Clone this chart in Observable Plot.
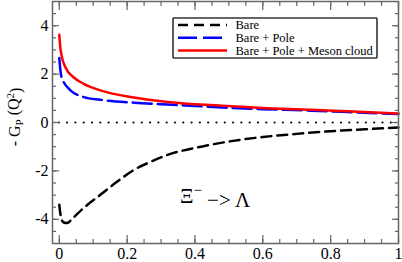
<!DOCTYPE html>
<html><head><meta charset="utf-8">
<script src="https://cdn.jsdelivr.net/npm/d3@7"></script>
<script src="https://cdn.jsdelivr.net/npm/@observablehq/plot@0.6"></script>
<style>
body{margin:0;background:#fff;}
#wrap{position:relative;width:402px;height:262px;}
#wrap svg text{font-family:"Liberation Serif","Times New Roman",serif;}
</style></head><body><div id="wrap"></div>
<script>
// Series
const bareQ2 = [0, 0.003, 0.008, 0.013, 0.023, 0.04, 0.072, 0.121, 0.171, 0.22, 0.27, 0.319, 0.418, 0.507, 0.6, 0.7, 0.8, 0.9, 1.0];
const bareG  = [-3.40, -3.75, -4.05, -4.13, -4.15, -3.95, -3.53, -2.99, -2.44, -1.96, -1.62, -1.34, -1.00, -0.77, -0.60, -0.47, -0.36, -0.28, -0.21];
const poleQ2 = [0, 0.003, 0.006, 0.013, 0.033, 0.072, 0.121, 0.22, 0.319, 0.418, 0.507, 0.6, 0.744, 0.85, 1.0];
const poleG  = [2.67, 2.20, 1.90, 1.67, 1.33, 1.05, 0.94, 0.82, 0.74, 0.67, 0.60, 0.55, 0.49, 0.43, 0.35];
const mesonQ2 = [0, 0.003, 0.008, 0.018, 0.042, 0.072, 0.121, 0.22, 0.319, 0.418, 0.507, 0.6, 0.744, 0.85, 1.0];
const mesonG  = [3.63, 3.10, 2.69, 2.28, 1.87, 1.60, 1.33, 1.03, 0.85, 0.74, 0.67, 0.60, 0.53, 0.46, 0.37];
const seriesNames = ["Bare", "Bare + Pole", "Bare + Pole + Meson cloud"];
const zeroLine = [{x1: 0, x2: 1, y: 0}];
const xMajor = [0, 0.2, 0.4, 0.6, 0.8, 1];
const xMinor = [0, 0.05, 0.1, 0.15, 0.2, 0.25, 0.3, 0.35, 0.4, 0.45, 0.5, 0.55, 0.6, 0.65, 0.7, 0.75, 0.8, 0.85, 0.9, 0.95, 1];
const yMajor = [-4, -2, 0, 2, 4];
const yMinor = [-4.5, -4, -3.5, -3, -2.5, -2, -1.5, -1, -0.5, 0, 0.5, 1, 1.5, 2, 2.5, 3, 3.5, 4, 4.5];
const annotation = [{x: 0.357, y: -3.06}];

const bare = bareQ2.map((x, i) => ({x, y: bareG[i]}));
const pole = poleQ2.map((x, i) => ({x, y: poleG[i]}));
const meson = mesonQ2.map((x, i) => ({x, y: mesonG[i]}));

const axisCol = "#666";
const serif = "Liberation Serif, Times New Roman, serif";
const blank = () => "";
const tickAxes = [];
for (const anchor of ["bottom", "top"]) {
  tickAxes.push(Plot.axisX(xMajor, {anchor, tickSize: -8, tickFormat: blank, stroke: axisCol, strokeWidth: 1.2, label: null}));
  tickAxes.push(Plot.axisX(xMinor, {anchor, tickSize: -4, tickFormat: blank, stroke: axisCol, strokeWidth: 1.2, label: null}));
}
for (const anchor of ["left", "right"]) {
  tickAxes.push(Plot.axisY(yMajor, {anchor, tickSize: -7, tickFormat: blank, stroke: axisCol, strokeWidth: 1.2, label: null}));
  tickAxes.push(Plot.axisY(yMinor, {anchor, tickSize: -4, tickFormat: blank, stroke: axisCol, strokeWidth: 1.2, label: null}));
}

const plot = Plot.plot({
  width: 402, height: 262,
  marginLeft: 52, marginRight: 4, marginTop: 1, marginBottom: 19,
  x: {domain: [-0.02, 1]},
  y: {domain: [-5, 5]},
  style: {fontFamily: serif, fontSize: "16px", color: "#000", background: "#fff"},
  marks: [
    Plot.ruleY(zeroLine, {x1: "x1", x2: "x2", y: "y", stroke: "#000", strokeWidth: 2.2, strokeDasharray: "0,8.3", strokeLinecap: "round"}),
    Plot.line(bare, {x: "x", y: "y", stroke: "#000", strokeWidth: 2.5, strokeDasharray: "10,6", curve: "monotone-x"}),
    Plot.line(pole, {x: "x", y: "y", stroke: "#0000ff", strokeWidth: 2.5, strokeDasharray: "19,6", curve: "monotone-x"}),
    Plot.line(meson, {x: "x", y: "y", stroke: "#ff0000", strokeWidth: 2.5, curve: "monotone-x"}),
    ...tickAxes,
    Plot.axisX(xMajor, {anchor: "bottom", tickSize: 0, tickPadding: 4, tickFormat: d => String(d), label: null, fontSize: 16, fontFamily: serif}),
    Plot.axisY(yMajor, {anchor: "left", tickSize: 0, tickPadding: 4, tickFormat: d => String(d), label: null, fontSize: 16, fontFamily: serif}),
    Plot.frame({stroke: axisCol, strokeWidth: 1.5})
  ]
});

const svg = d3.select(plot);
const sx = plot.scale("x"), sy = plot.scale("y");

// annotation Ξ⁻ -> Λ
const ann = svg.append("text")
  .attr("x", sx.apply(annotation[0].x)).attr("y", sy.apply(annotation[0].y))
  .attr("dy", "0.35em").attr("text-anchor", "start")
  .style("font-family", serif).style("font-size", "21px");
ann.append("tspan").text("Ξ");
ann.append("tspan").attr("dy", "-0.55em").style("font-size", "15px").text("−");
ann.append("tspan").attr("dy", "0.55em").text(" −> Λ");

// y axis label
const yl = svg.append("text")
  .attr("transform", "translate(20,117) rotate(-90)")
  .attr("text-anchor", "middle")
  .style("font-family", serif).style("font-size", "16px");
yl.append("tspan").text("- G");
yl.append("tspan").attr("dy", "0.3em").style("font-size", "11px").text("P");
yl.append("tspan").attr("dy", "-0.3em").text(" (Q");
yl.append("tspan").attr("dy", "-0.45em").style("font-size", "11px").text("2");
yl.append("tspan").attr("dy", "0.45em").text(")");

// legend inside the plot area: box drawn as four lines
const lg = svg.append("g").attr("transform", "translate(173,18)");
lg.append("path").attr("d", "M0,0H204V40H0Z").attr("fill", "white").attr("stroke", "none");
[[0, 0, 204, 0], [204, 0, 204, 40], [204, 40, 0, 40], [0, 40, 0, 0]].forEach(([a, b, c, d]) => {
  lg.append("line").attr("x1", a).attr("y1", b).attr("x2", c).attr("y2", d)
    .attr("stroke", "#333").attr("stroke-width", 1.6);
});
const styles = [
  {stroke: "#000", dash: "10,6"},
  {stroke: "#0000ff", dash: "19,6"},
  {stroke: "#ff0000", dash: null}
];
seriesNames.forEach((name, i) => {
  const yy = 7 + i * 12.8;
  const l = lg.append("line").attr("x1", 5).attr("x2", 54).attr("y1", yy).attr("y2", yy)
    .attr("stroke", styles[i].stroke).attr("stroke-width", 2.5);
  if (styles[i].dash) l.attr("stroke-dasharray", styles[i].dash);
  lg.append("text").attr("x", 62.5).attr("y", yy).attr("dy", "0.35em").attr("text-anchor", "start")
    .style("font-family", serif).style("font-size", "12.5px").text(name);
});

document.getElementById("wrap").appendChild(plot);
</script>
</body></html>
